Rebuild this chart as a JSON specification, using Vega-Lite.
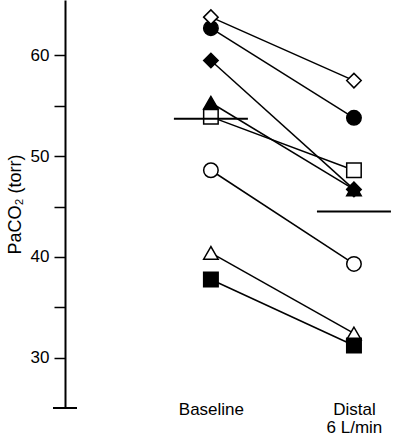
{
  "$schema": "https://vega.github.io/schema/vega-lite/v6.json",
  "width": 329,
  "height": 408,
  "autosize": "none",
  "padding": {"left": 65, "top": 0, "right": 0, "bottom": 27},
  "background": "white",
  "config": {
    "view": {"stroke": null},
    "font": "Liberation Sans",
    "axis": {"grid": false, "labelColor": "black", "titleColor": "black", "labelFontSize": 17, "titleFontSize": 18, "titleFontWeight": "normal"}
  },
  "datasets": {
    "subjects": [
      {"subject": "B", "cond": 1, "value": 62.7},
      {"subject": "B", "cond": 2, "value": 53.8},
      {"subject": "A", "cond": 1, "value": 63.8},
      {"subject": "A", "cond": 2, "value": 57.5},
      {"subject": "C", "cond": 1, "value": 59.5},
      {"subject": "C", "cond": 2, "value": 46.7},
      {"subject": "D", "cond": 1, "value": 55.3},
      {"subject": "D", "cond": 2, "value": 46.7},
      {"subject": "E", "cond": 1, "value": 53.9},
      {"subject": "E", "cond": 2, "value": 48.6},
      {"subject": "F", "cond": 1, "value": 48.6},
      {"subject": "F", "cond": 2, "value": 39.3},
      {"subject": "G", "cond": 1, "value": 40.4},
      {"subject": "G", "cond": 2, "value": 32.4},
      {"subject": "H", "cond": 1, "value": 37.75},
      {"subject": "H", "cond": 2, "value": 31.2}
    ],
    "means": [
      {"cond": 1, "mean": 53.7},
      {"cond": 2, "mean": 44.5}
    ]
  },
  "layer": [
    {
      "data": {"name": "subjects"},
      "mark": {"type": "line", "color": "black", "strokeWidth": 1.5},
      "encoding": {
        "x": {
          "field": "cond", "type": "quantitative",
          "scale": {"domain": [-0.02, 2.28], "nice": false, "zero": false},
          "axis": {
            "orient": "bottom", "values": [1, 2], "domain": false, "ticks": false,
            "labelPadding": -7, "labelLineHeight": 18, "title": null,
            "labelExpr": "datum.value == 1 ? 'Baseline' : ['Distal', '6 L/min']"
          }
        },
        "y": {
          "field": "value", "type": "quantitative",
          "scale": {"domain": [25, 65.5], "nice": false, "zero": false},
          "axis": {
            "values": [30, 35, 40, 45, 50, 55, 60],
            "labelExpr": "datum.value % 10 === 0 ? datum.label : ''",
            "tickSize": 11, "tickWidth": 1.5, "tickColor": "black",
            "domainColor": "black", "domainWidth": 2,
            "labelPadding": 5, "title": "PaCO₂ (torr)", "titlePadding": 6
          }
        },
        "detail": {"field": "subject"}
      }
    },
    {
      "data": {"name": "subjects"},
      "mark": {"type": "point", "filled": true, "opacity": 1, "stroke": "black", "strokeWidth": 1.5, "size": 210},
      "encoding": {
        "x": {"field": "cond", "type": "quantitative"},
        "y": {"field": "value", "type": "quantitative"},
        "shape": {
          "field": "subject", "type": "nominal", "legend": null,
          "scale": {"domain": ["A", "B", "C", "D", "E", "F", "G", "H"],
                    "range": ["diamond", "circle", "diamond", "triangle-up", "square", "circle", "triangle-up", "square"]}
        },
        "fill": {
          "field": "subject", "type": "nominal", "legend": null,
          "scale": {"domain": ["A", "B", "C", "D", "E", "F", "G", "H"],
                    "range": ["white", "black", "black", "black", "white", "white", "white", "black"]}
        }
      }
    },
    {
      "data": {"name": "means"},
      "mark": {"type": "tick", "orient": "horizontal", "size": 74, "thickness": 2, "color": "black", "opacity": 1},
      "encoding": {
        "x": {"field": "cond", "type": "quantitative"},
        "y": {"field": "mean", "type": "quantitative"}
      }
    },
    {
      "data": {"values": [{}]},
      "mark": {"type": "tick", "orient": "horizontal", "size": 24, "thickness": 2, "color": "black", "opacity": 1, "clip": false},
      "encoding": {
        "x": {"datum": -0.02, "type": "quantitative"},
        "y": {"datum": 25, "type": "quantitative"}
      }
    }
  ]
}
